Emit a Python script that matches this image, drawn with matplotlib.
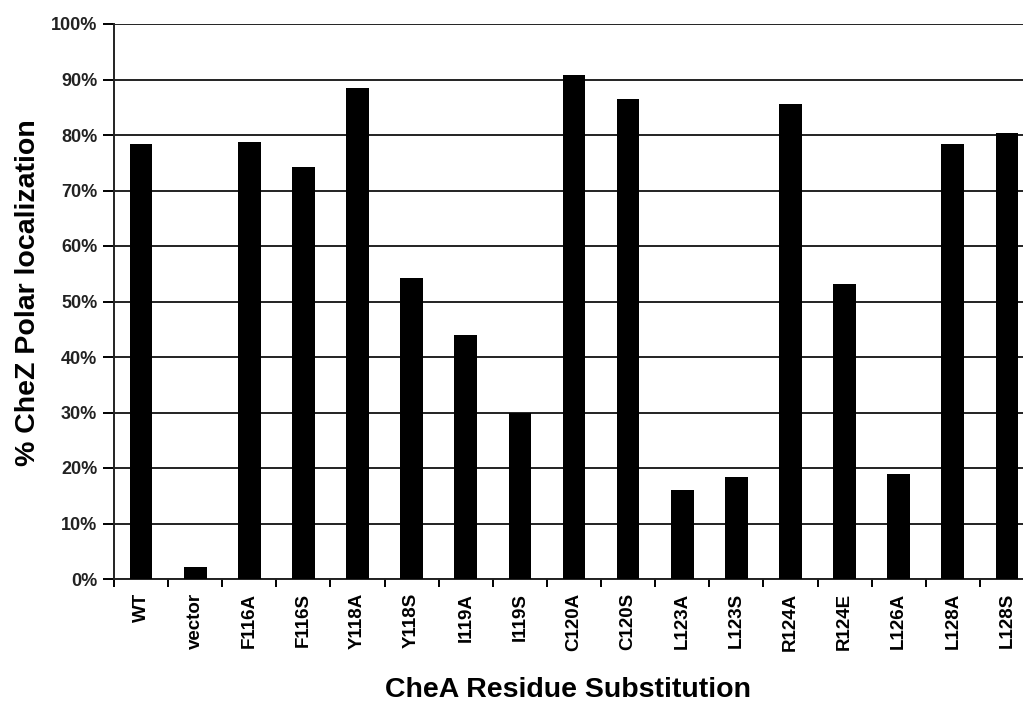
import matplotlib
matplotlib.use("Agg")
import matplotlib.pyplot as plt
from matplotlib.ticker import FixedLocator, NullFormatter

categories = ["WT", "vector", "F116A", "F116S", "Y118A", "Y118S", "I119A", "I119S",
              "C120A", "C120S", "L123A", "L123S", "R124A", "R124E", "L126A", "L128A", "L128S"]
values = [78.3, 2.2, 78.7, 74.3, 88.5, 54.2, 44.0, 29.9,
          90.9, 86.5, 16.0, 18.4, 85.5, 53.2, 18.9, 78.3, 80.4]
yticks = [0, 10, 20, 30, 40, 50, 60, 70, 80, 90, 100]
ytick_labels = [f"{v}%" for v in yticks]

plt.rcParams['font.family'] = ['Liberation Sans', 'DejaVu Sans']

fig = plt.figure(figsize=(10.23, 7.11), dpi=100)
left = 114 / 1023
right = 1034 / 1023
bottom = 1 - 579 / 711
top = 1 - 24 / 711
ax = fig.add_axes([left, bottom, right - left, top - bottom])

x = list(range(len(categories)))
ax.bar(x, values, width=0.42, color="black", zorder=3)

ax.set_xlim(-0.5, len(categories) - 0.5)
ax.set_ylim(0, 100)
ax.set_yticks(yticks)
ax.set_yticklabels(ytick_labels, fontsize=13, fontweight="bold", color="#222222")
ax.yaxis.grid(True, color="#222222", linewidth=1.4, zorder=1)
ax.set_axisbelow(True)

ax.set_xticks(x)
ax.set_xticklabels(categories, rotation=90, fontsize=13.5, fontweight="bold")
ax.tick_params(axis="x", length=0, pad=10)
ax.xaxis.set_minor_locator(FixedLocator([i - 0.5 for i in range(len(categories) + 1)]))
ax.xaxis.set_minor_formatter(NullFormatter())
ax.tick_params(axis="x", which="minor", length=6, width=1.4, direction="out")
ax.tick_params(axis="y", length=8, width=1.4, direction="out", pad=4)

for s in ["top", "right"]:
    ax.spines[s].set_visible(False)
for s in ["left", "bottom"]:
    ax.spines[s].set_linewidth(1.4)
    ax.spines[s].set_color("#222222")

fig.text(28 / 1023, 1 - 293 / 711, "% CheZ Polar localization", rotation=90,
         ha="center", va="center", fontsize=20.5, fontweight="bold")
fig.text(568 / 1023, 1 - 690 / 711, "CheA Residue Substitution",
         ha="center", va="center", fontsize=20.5, fontweight="bold")

fig.savefig("out.png", dpi=100)
